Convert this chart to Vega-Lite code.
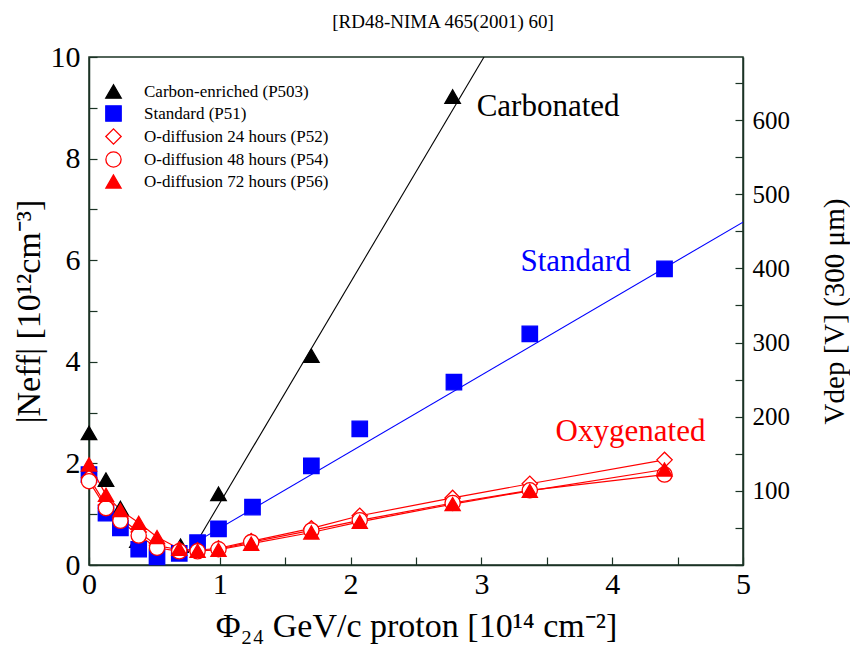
{
  "$schema": "https://vega.github.io/schema/vega-lite/v6.json",
  "width": 654,
  "height": 508,
  "autosize": {"type": "none"},
  "padding": {"left": 89, "top": 57, "right": 107, "bottom": 93},
  "background": "white",
  "title": {"text": "[RD48-NIMA 465(2001) 60]", "font": "Liberation Serif", "fontSize": 19, "fontWeight": "normal", "color": "black", "offset": 10, "dx": 27},
  "config": {
    "font": "Liberation Serif",
    "view": {"stroke": "#1b3325", "strokeWidth": 1.5},
    "axis": {"grid": false, "domainColor": "#1b3325", "domainWidth": 1.5, "tickColor": "#1b3325", "tickWidth": 1.2, "labelColor": "black", "titleColor": "black", "labelFont": "Liberation Serif", "titleFont": "Liberation Serif", "titleFontWeight": "normal", "labelOverlap": false, "labelFlush": false}
  },
  "datasets": {
    "pts": [
      {"x": 0, "y": 2.60, "s": "Carbon-enriched (P503)"},
      {"x": 0.13, "y": 1.68, "s": "Carbon-enriched (P503)"},
      {"x": 0.24, "y": 1.12, "s": "Carbon-enriched (P503)"},
      {"x": 0.37, "y": 0.48, "s": "Carbon-enriched (P503)"},
      {"x": 0.70, "y": 0.38, "s": "Carbon-enriched (P503)"},
      {"x": 0.99, "y": 1.40, "s": "Carbon-enriched (P503)"},
      {"x": 1.70, "y": 4.12, "s": "Carbon-enriched (P503)"},
      {"x": 2.78, "y": 9.22, "s": "Carbon-enriched (P503)"},
      {"x": 0, "y": 1.78, "s": "Standard (P51)"},
      {"x": 0.13, "y": 1.02, "s": "Standard (P51)"},
      {"x": 0.24, "y": 0.73, "s": "Standard (P51)"},
      {"x": 0.38, "y": 0.31, "s": "Standard (P51)"},
      {"x": 0.52, "y": 0.16, "s": "Standard (P51)"},
      {"x": 0.69, "y": 0.23, "s": "Standard (P51)"},
      {"x": 0.83, "y": 0.44, "s": "Standard (P51)"},
      {"x": 0.99, "y": 0.71, "s": "Standard (P51)"},
      {"x": 1.25, "y": 1.14, "s": "Standard (P51)"},
      {"x": 1.70, "y": 1.95, "s": "Standard (P51)"},
      {"x": 2.07, "y": 2.68, "s": "Standard (P51)"},
      {"x": 2.79, "y": 3.60, "s": "Standard (P51)"},
      {"x": 3.37, "y": 4.55, "s": "Standard (P51)"},
      {"x": 4.40, "y": 5.83, "s": "Standard (P51)"},
      {"x": 0, "y": 1.72, "s": "O-diffusion 24 hours (P52)"},
      {"x": 0.13, "y": 1.18, "s": "O-diffusion 24 hours (P52)"},
      {"x": 0.24, "y": 0.92, "s": "O-diffusion 24 hours (P52)"},
      {"x": 0.38, "y": 0.65, "s": "O-diffusion 24 hours (P52)"},
      {"x": 0.52, "y": 0.38, "s": "O-diffusion 24 hours (P52)"},
      {"x": 0.69, "y": 0.30, "s": "O-diffusion 24 hours (P52)"},
      {"x": 0.83, "y": 0.29, "s": "O-diffusion 24 hours (P52)"},
      {"x": 0.99, "y": 0.33, "s": "O-diffusion 24 hours (P52)"},
      {"x": 1.24, "y": 0.47, "s": "O-diffusion 24 hours (P52)"},
      {"x": 1.70, "y": 0.72, "s": "O-diffusion 24 hours (P52)"},
      {"x": 2.07, "y": 0.97, "s": "O-diffusion 24 hours (P52)"},
      {"x": 2.78, "y": 1.32, "s": "O-diffusion 24 hours (P52)"},
      {"x": 3.37, "y": 1.60, "s": "O-diffusion 24 hours (P52)"},
      {"x": 4.40, "y": 2.07, "s": "O-diffusion 24 hours (P52)"},
      {"x": 0, "y": 1.65, "s": "O-diffusion 48 hours (P54)"},
      {"x": 0.13, "y": 1.12, "s": "O-diffusion 48 hours (P54)"},
      {"x": 0.24, "y": 0.87, "s": "O-diffusion 48 hours (P54)"},
      {"x": 0.38, "y": 0.58, "s": "O-diffusion 48 hours (P54)"},
      {"x": 0.52, "y": 0.34, "s": "O-diffusion 48 hours (P54)"},
      {"x": 0.69, "y": 0.27, "s": "O-diffusion 48 hours (P54)"},
      {"x": 0.83, "y": 0.27, "s": "O-diffusion 48 hours (P54)"},
      {"x": 0.99, "y": 0.31, "s": "O-diffusion 48 hours (P54)"},
      {"x": 1.24, "y": 0.45, "s": "O-diffusion 48 hours (P54)"},
      {"x": 1.70, "y": 0.68, "s": "O-diffusion 48 hours (P54)"},
      {"x": 2.07, "y": 0.88, "s": "O-diffusion 48 hours (P54)"},
      {"x": 2.78, "y": 1.22, "s": "O-diffusion 48 hours (P54)"},
      {"x": 3.37, "y": 1.47, "s": "O-diffusion 48 hours (P54)"},
      {"x": 4.40, "y": 1.78, "s": "O-diffusion 48 hours (P54)"},
      {"x": 0, "y": 1.98, "s": "O-diffusion 72 hours (P56)"},
      {"x": 0.13, "y": 1.38, "s": "O-diffusion 72 hours (P56)"},
      {"x": 0.24, "y": 1.08, "s": "O-diffusion 72 hours (P56)"},
      {"x": 0.38, "y": 0.83, "s": "O-diffusion 72 hours (P56)"},
      {"x": 0.52, "y": 0.55, "s": "O-diffusion 72 hours (P56)"},
      {"x": 0.69, "y": 0.32, "s": "O-diffusion 72 hours (P56)"},
      {"x": 0.83, "y": 0.28, "s": "O-diffusion 72 hours (P56)"},
      {"x": 0.99, "y": 0.30, "s": "O-diffusion 72 hours (P56)"},
      {"x": 1.24, "y": 0.42, "s": "O-diffusion 72 hours (P56)"},
      {"x": 1.70, "y": 0.64, "s": "O-diffusion 72 hours (P56)"},
      {"x": 2.07, "y": 0.85, "s": "O-diffusion 72 hours (P56)"},
      {"x": 2.78, "y": 1.20, "s": "O-diffusion 72 hours (P56)"},
      {"x": 3.37, "y": 1.46, "s": "O-diffusion 72 hours (P56)"},
      {"x": 4.40, "y": 1.88, "s": "O-diffusion 72 hours (P56)"}
    ],
    "fits": [
      {"x": 0.80, "y": 0.35, "g": "C", "c": "black"},
      {"x": 3.02, "y": 10.0, "g": "C", "c": "black"},
      {"x": 0.83, "y": 0.47, "g": "S", "c": "blue"},
      {"x": 5.0, "y": 6.75, "g": "S", "c": "blue"}
    ],
    "notes": [
      {"x": 3.51, "y": 9.02, "t": "Carbonated", "c": "black"},
      {"x": 3.72, "y": 5.96, "t": "Standard", "c": "blue"},
      {"x": 4.14, "y": 2.62, "t": "Oxygenated", "c": "red"}
    ],
    "vaxis": [{"v": 0}, {"v": 685}]
  },
  "layer": [
    {
      "layer": [
        {
          "data": {"name": "fits"},
          "mark": {"type": "line", "clip": true, "strokeWidth": 1.1},
          "encoding": {
            "x": {"field": "x", "type": "quantitative", "scale": {"domain": [0, 5], "nice": false, "zero": false}},
            "y": {"field": "y", "type": "quantitative", "scale": {"domain": [0, 10], "nice": false, "zero": false}},
            "detail": {"field": "g"},
            "stroke": {"field": "c", "type": "nominal", "scale": null}
          }
        },
        {
          "data": {"name": "pts"},
          "transform": [{"filter": {"field": "s", "oneOf": ["O-diffusion 24 hours (P52)", "O-diffusion 48 hours (P54)", "O-diffusion 72 hours (P56)"]}}],
          "mark": {"type": "line", "color": "#ff0000", "strokeWidth": 1.2, "clip": true},
          "encoding": {
            "x": {"field": "x", "type": "quantitative", "scale": {"domain": [0, 5], "nice": false, "zero": false}},
            "y": {"field": "y", "type": "quantitative", "scale": {"domain": [0, 10], "nice": false, "zero": false}},
            "detail": {"field": "s"}
          }
        },
        {
          "data": {"name": "pts"},
          "mark": {"type": "point", "filled": true, "strokeWidth": 1.3, "opacity": 1},
          "encoding": {
            "x": {"field": "x", "type": "quantitative", "scale": {"domain": [0, 5], "nice": false, "zero": false},
              "axis": {"title": "Φ₂₄ GeV/c proton  [10¹⁴ cm⁻²]", "values": [0, 0.5, 1, 1.5, 2, 2.5, 3, 3.5, 4, 4.5, 5], "format": ".0f", "labelExpr": "datum.value % 1 == 0 ? format(datum.value, 'd') : ''", "tickSize": -8, "labelPadding": 12, "labelFontSize": 30, "titleFontSize": 34, "titlePadding": 10}},
            "y": {"field": "y", "type": "quantitative", "scale": {"domain": [0, 10], "nice": false, "zero": false},
              "axis": {"title": "|Neff|  [10¹²cm⁻³]", "values": [0, 1, 2, 3, 4, 5, 6, 7, 8, 9, 10], "labelExpr": "datum.value % 2 == 0 ? format(datum.value, 'd') : ''", "tickSize": -8, "labelPadding": 17, "labelFontSize": 30, "titleFontSize": 34, "titlePadding": 4}},
            "shape": {"field": "s", "type": "nominal",
              "scale": {"domain": ["Carbon-enriched (P503)", "Standard (P51)", "O-diffusion 24 hours (P52)", "O-diffusion 48 hours (P54)", "O-diffusion 72 hours (P56)"], "range": ["triangle-up", "square", "diamond", "circle", "triangle-up"]},
              "legend": {"title": null, "orient": "none", "legendX": 16, "legendY": 26, "labelFont": "Liberation Serif", "labelFontSize": 17, "labelColor": "black", "labelLimit": 0, "rowPadding": 2, "labelOffset": 22, "symbolStrokeWidth": 1.3}},
            "stroke": {"field": "s", "type": "nominal",
              "scale": {"domain": ["Carbon-enriched (P503)", "Standard (P51)", "O-diffusion 24 hours (P52)", "O-diffusion 48 hours (P54)", "O-diffusion 72 hours (P56)"], "range": ["#000000", "#0000ff", "#ff0000", "#ff0000", "#ff0000"]}},
            "fill": {"field": "s", "type": "nominal",
              "scale": {"domain": ["Carbon-enriched (P503)", "Standard (P51)", "O-diffusion 24 hours (P52)", "O-diffusion 48 hours (P54)", "O-diffusion 72 hours (P56)"], "range": ["#000000", "#0000ff", "#ffffff", "#ffffff", "#ff0000"]}},
            "size": {"field": "s", "type": "nominal",
              "scale": {"domain": ["Carbon-enriched (P503)", "Standard (P51)", "O-diffusion 24 hours (P52)", "O-diffusion 48 hours (P54)", "O-diffusion 72 hours (P56)"], "range": [240, 230, 110, 140, 160]}}
          }
        },
        {
          "data": {"name": "notes"},
          "mark": {"type": "text", "font": "Liberation Serif", "fontSize": 31, "align": "center", "baseline": "middle"},
          "encoding": {
            "x": {"field": "x", "type": "quantitative", "scale": {"domain": [0, 5], "nice": false, "zero": false}},
            "y": {"field": "y", "type": "quantitative", "scale": {"domain": [0, 10], "nice": false, "zero": false}},
            "text": {"field": "t"},
            "color": {"field": "c", "type": "nominal", "scale": null}
          }
        }
      ]
    },
    {
      "data": {"name": "vaxis"},
      "mark": {"type": "point", "opacity": 0},
      "encoding": {
        "y": {"field": "v", "type": "quantitative", "scale": {"domain": [0, 685], "nice": false, "zero": false},
          "axis": {"orient": "right", "title": "Vdep [V] (300 μm)", "titleAngle": -90, "values": [0, 50, 100, 150, 200, 250, 300, 350, 400, 450, 500, 550, 600, 650], "labelExpr": "datum.value % 100 == 0 && datum.value > 0 ? format(datum.value, 'd') : ''", "tickSize": -8, "labelPadding": 17, "labelFontSize": 25, "titleFontSize": 29, "titlePadding": 60}}
      }
    }
  ],
  "resolve": {"scale": {"y": "independent"}}
}
